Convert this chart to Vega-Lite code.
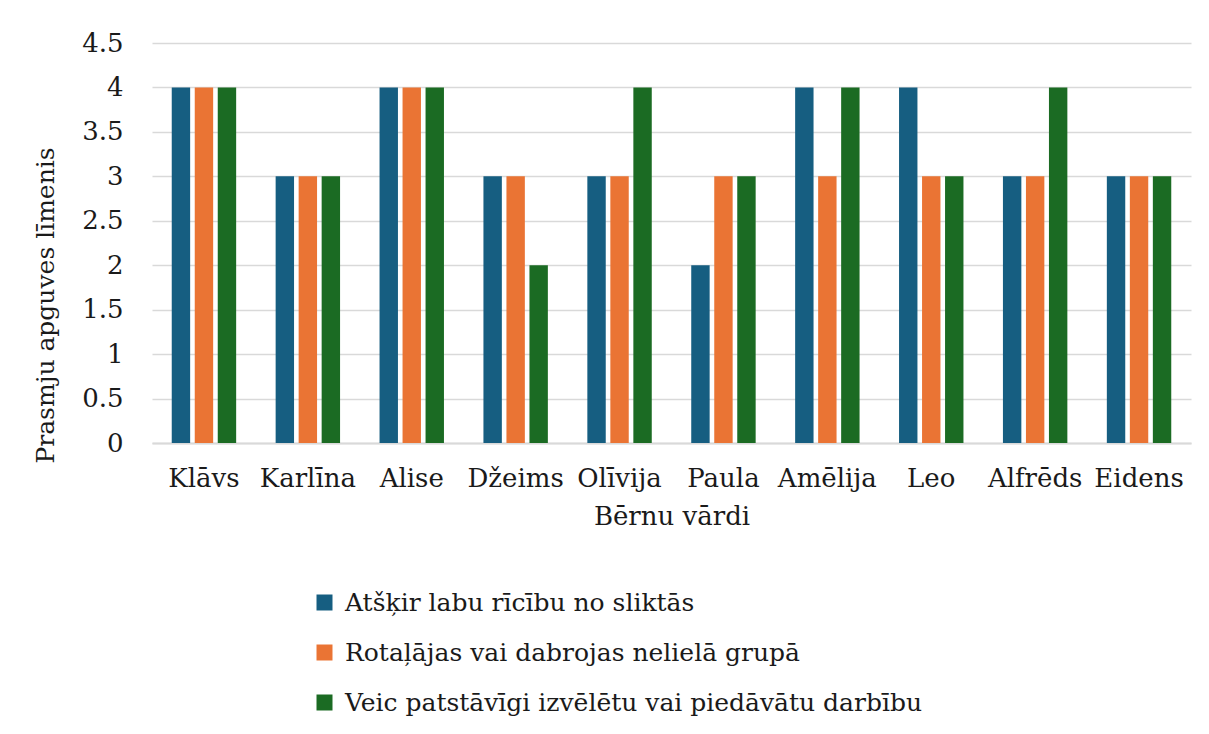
{
  "$schema": "https://vega.github.io/schema/vega-lite/v6.json",
  "autosize": "none",
  "width": 1039,
  "height": 400,
  "padding": {"left": 152, "top": 43, "right": 18, "bottom": 291},
  "background": "white",
  "config": {
    "font": "DejaVu Serif",
    "view": {"stroke": null},
    "style": {"guide-label": {"font": "DejaVu Serif"}, "guide-title": {"font": "DejaVu Serif"}},
    "legend": {"labelFont": "DejaVu Serif", "labelFontSize": 25, "labelColor": "#1a1a1a"}
  },
  "data": {
    "values": [
      {"name": "Klāvs", "series": "Atšķir labu rīcību no sliktās", "value": 4},
      {"name": "Klāvs", "series": "Rotaļājas vai dabrojas nelielā grupā", "value": 4},
      {"name": "Klāvs", "series": "Veic patstāvīgi izvēlētu vai piedāvātu darbību", "value": 4},
      {"name": "Karlīna", "series": "Atšķir labu rīcību no sliktās", "value": 3},
      {"name": "Karlīna", "series": "Rotaļājas vai dabrojas nelielā grupā", "value": 3},
      {"name": "Karlīna", "series": "Veic patstāvīgi izvēlētu vai piedāvātu darbību", "value": 3},
      {"name": "Alise", "series": "Atšķir labu rīcību no sliktās", "value": 4},
      {"name": "Alise", "series": "Rotaļājas vai dabrojas nelielā grupā", "value": 4},
      {"name": "Alise", "series": "Veic patstāvīgi izvēlētu vai piedāvātu darbību", "value": 4},
      {"name": "Džeims", "series": "Atšķir labu rīcību no sliktās", "value": 3},
      {"name": "Džeims", "series": "Rotaļājas vai dabrojas nelielā grupā", "value": 3},
      {"name": "Džeims", "series": "Veic patstāvīgi izvēlētu vai piedāvātu darbību", "value": 2},
      {"name": "Olīvija", "series": "Atšķir labu rīcību no sliktās", "value": 3},
      {"name": "Olīvija", "series": "Rotaļājas vai dabrojas nelielā grupā", "value": 3},
      {"name": "Olīvija", "series": "Veic patstāvīgi izvēlētu vai piedāvātu darbību", "value": 4},
      {"name": "Paula", "series": "Atšķir labu rīcību no sliktās", "value": 2},
      {"name": "Paula", "series": "Rotaļājas vai dabrojas nelielā grupā", "value": 3},
      {"name": "Paula", "series": "Veic patstāvīgi izvēlētu vai piedāvātu darbību", "value": 3},
      {"name": "Amēlija", "series": "Atšķir labu rīcību no sliktās", "value": 4},
      {"name": "Amēlija", "series": "Rotaļājas vai dabrojas nelielā grupā", "value": 3},
      {"name": "Amēlija", "series": "Veic patstāvīgi izvēlētu vai piedāvātu darbību", "value": 4},
      {"name": "Leo", "series": "Atšķir labu rīcību no sliktās", "value": 4},
      {"name": "Leo", "series": "Rotaļājas vai dabrojas nelielā grupā", "value": 3},
      {"name": "Leo", "series": "Veic patstāvīgi izvēlētu vai piedāvātu darbību", "value": 3},
      {"name": "Alfrēds", "series": "Atšķir labu rīcību no sliktās", "value": 3},
      {"name": "Alfrēds", "series": "Rotaļājas vai dabrojas nelielā grupā", "value": 3},
      {"name": "Alfrēds", "series": "Veic patstāvīgi izvēlētu vai piedāvātu darbību", "value": 4},
      {"name": "Eidens", "series": "Atšķir labu rīcību no sliktās", "value": 3},
      {"name": "Eidens", "series": "Rotaļājas vai dabrojas nelielā grupā", "value": 3},
      {"name": "Eidens", "series": "Veic patstāvīgi izvēlētu vai piedāvātu darbību", "value": 3}
    ]
  },
  "mark": {"type": "bar"},
  "encoding": {
    "x": {
      "field": "name", "type": "nominal", "sort": null,
      "scale": {"paddingInner": 0.38, "paddingOuter": 0.19},
      "axis": {
        "title": "Bērnu vārdi", "titleFont": "DejaVu Serif", "titleFontSize": 26, "titleFontWeight": "normal", "titleColor": "#1a1a1a", "titlePadding": 12,
        "labelFont": "DejaVu Serif", "labelFontSize": 26, "labelColor": "#1a1a1a", "labelAngle": 0, "labelPadding": 22,
        "ticks": false, "domainColor": "#d9d9d9", "domainWidth": 2, "grid": false
      }
    },
    "xOffset": {"field": "series", "type": "nominal", "sort": null, "scale": {"paddingInner": 0.2}},
    "y": {
      "field": "value", "type": "quantitative",
      "scale": {"domain": [0, 4.5]},
      "axis": {
        "title": "Prasmju apguves līmenis", "titleFont": "DejaVu Serif", "titleFontSize": 25, "titleFontWeight": "normal", "titleColor": "#1a1a1a", "titlePadding": 23, "titleY": 262,
        "labelFont": "DejaVu Serif", "labelFontSize": 26, "labelColor": "#1a1a1a", "labelPadding": 29, "format": "~g",
        "values": [0, 0.5, 1, 1.5, 2, 2.5, 3, 3.5, 4, 4.5],
        "ticks": false, "domain": false, "gridColor": "#d9d9d9", "gridWidth": 1.5
      }
    },
    "color": {
      "field": "series", "type": "nominal", "sort": null,
      "scale": {"range": ["#165E81", "#EA7434", "#1B6B23"]},
      "legend": {
        "title": null, "orient": "none", "legendX": 160, "legendY": 547,
        "direction": "vertical", "symbolType": "square", "symbolSize": 256,
        "labelFont": "DejaVu Serif", "labelFontSize": 25, "labelColor": "#1a1a1a", "labelLimit": 900,
        "rowPadding": 24, "labelOffset": 8, "symbolStrokeWidth": 0
      }
    }
  }
}
